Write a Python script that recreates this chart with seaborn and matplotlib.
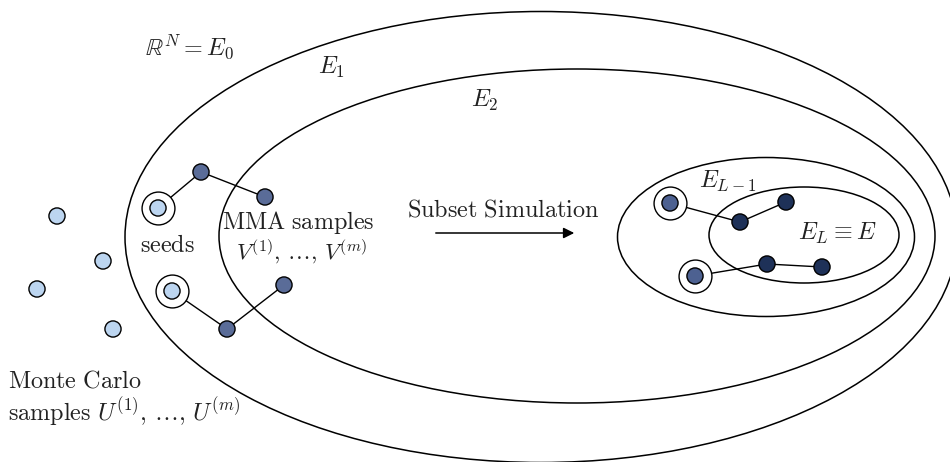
import matplotlib
matplotlib.use("Agg")
import matplotlib.pyplot as plt
from matplotlib.patches import Ellipse
import seaborn as sns
import pandas as pd

sns.set_theme(style="white")
plt.rcParams['mathtext.fontset'] = 'cm'
plt.rcParams['font.family'] = ['DejaVu Serif']

# ---- data (pixel-like diagram coordinates) ----
mc_x = [57, 103, 37, 113]
mc_y = [216, 261, 289, 329]

seed_x = [158, 172]
seed_y = [208, 291]
mma_x = [201, 265, 227, 284]
mma_y = [172, 197, 329, 285]
chains_left = [[(158, 208), (201, 172), (265, 197)],
               [(172, 291), (227, 329), (284, 285)]]

seedR_x = [670, 695]
seedR_y = [203, 276]
final_x = [740, 786, 767, 822]
final_y = [222, 202, 264, 267]
chains_right = [[(670, 203), (740, 222), (786, 202)],
                [(695, 276), (767, 264), (822, 267)]]

# nested sets: (cx, cy, width, height)
set_names = ["E1", "E2", "EL-1", "EL"]
set_cx = [541, 577, 766, 804]
set_cy = [237, 236, 237, 235]
set_w = [832, 716, 297, 190]
set_h = [451, 334, 159, 96]

light = "#bcd5f0"
mid = "#5a6c98"
midR = "#4d6191"
dark = "#1e3158"

fig = plt.figure(figsize=(9.5, 4.62), dpi=100)
ax = fig.add_axes([0, 0, 1, 1])
ax.set_xlim(0, 950)
ax.set_ylim(462, 0)
ax.axis("off")

for cx, cy, w, h in zip(set_cx, set_cy, set_w, set_h):
    ax.add_patch(Ellipse((cx, cy), w, h, fill=False, ec="black", lw=1.1, zorder=1))

for chain in chains_left + chains_right:
    xs, ys = zip(*chain)
    ax.plot(xs, ys, color="black", lw=1.0, zorder=2)

rings = pd.DataFrame({"x": seed_x + seedR_x, "y": seed_y + seedR_y})
sns.scatterplot(data=rings, x="x", y="y", s=560, facecolor="white",
                edgecolor="black", linewidth=1.0, ax=ax, zorder=2.5, legend=False)

pts = pd.DataFrame({
    "x": mc_x + seed_x + mma_x + seedR_x + final_x,
    "y": mc_y + seed_y + mma_y + seedR_y + final_y,
    "kind": ["mc"] * 4 + ["seed"] * 2 + ["mma"] * 4 + ["seedR"] * 2 + ["final"] * 4,
})
sns.scatterplot(data=pts, x="x", y="y", hue="kind",
                palette={"mc": light, "seed": light, "mma": mid, "seedR": midR, "final": dark},
                s=135, edgecolor="black", linewidth=1.0, ax=ax, zorder=3, legend=False)
ax.set_xlabel("")
ax.set_ylabel("")
ax.set_xlim(0, 950)
ax.set_ylim(462, 0)

fs = 17.4
tc = "#222222"
dots = r",\,\ldots,\,"
ax.text(190, 47, r"$\mathbb{R}^N = E_0$", fontsize=fs, ha="center", va="center", color=tc)
ax.text(331, 67, r"$E_1$", fontsize=fs, ha="center", va="center", color=tc)
ax.text(485, 100, r"$E_2$", fontsize=fs, ha="center", va="center", color=tc)
ax.text(728, 181, r"$E_{L-1}$", fontsize=fs, ha="center", va="center", color=tc)
ax.text(837, 233, r"$E_L \equiv E$", fontsize=fs, ha="center", va="center", color=tc)
ax.text(503, 210, r"$\mathrm{Subset\ Simulation}$", fontsize=fs, ha="center", va="center", color=tc)
ax.annotate("", xy=(577, 233), xytext=(433, 233),
            arrowprops=dict(arrowstyle="-|>", color="black", lw=1.1, mutation_scale=16))
ax.text(167, 246, r"$\mathrm{seeds}$", fontsize=fs, ha="center", va="center", color=tc)
ax.text(298, 222, r"$\mathrm{MMA\ samples}$", fontsize=fs, ha="center", va="center", color=tc)
ax.text(301, 252, r"$V^{(1)}" + dots + r"V^{(m)}$", fontsize=16.5, ha="center", va="center", color=tc)
ax.text(8, 381, r"$\mathrm{Monte\ Carlo}$", fontsize=fs, ha="left", va="center", color=tc)
ax.text(8, 412, r"$\mathrm{samples}\ U^{(1)}" + dots + r"U^{(m)}$", fontsize=fs, ha="left", va="center", color=tc)

fig.savefig("out.png", dpi=100)
